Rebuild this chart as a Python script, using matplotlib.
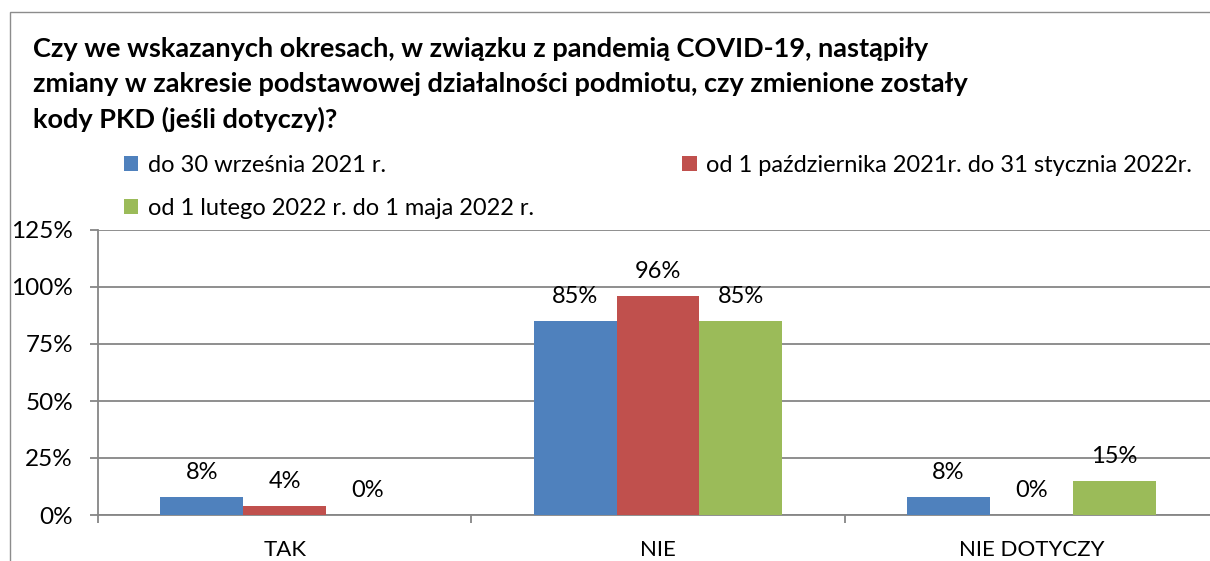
import matplotlib
matplotlib.use("Agg")
import matplotlib.pyplot as plt
from matplotlib.patches import Patch, Rectangle
from matplotlib.ticker import FixedLocator, PercentFormatter

kategorie = ["TAK", "NIE", "NIE DOTYCZY"]
okresy = ["do 30 września 2021 r.",
          "od 1 października 2021r. do 31 stycznia 2022r.",
          "od 1 lutego 2022 r. do 1 maja 2022 r."]
wartosci = [
    [8, 85, 8],     # do 30 września 2021
    [4, 96, 0],     # od 1 października 2021 do 31 stycznia 2022
    [0, 85, 15],    # od 1 lutego 2022 do 1 maja 2022
]
kolory = ["#4F81BD", "#C0504D", "#9BBB59"]
tytul = ["Czy we wskazanych okresach, w związku z pandemią COVID-19, nastąpiły",
         "zmiany w zakresie podstawowej działalności podmiotu, czy zmienione zostały",
         "kody PKD (jeśli dotyczy)?"]

plt.rcParams['font.family'] = ['Lato', 'DejaVu Sans']
szary = "#868686"

W, H = 1210, 561
fig = plt.figure(figsize=(W / 100, H / 100), dpi=100)

# ramka wykresu
fig.patches.append(Rectangle((10 / W, -0.1), 1.2, (H - 12) / H + 0.1,
                             transform=fig.transFigure, fill=False,
                             edgecolor="#8c8c8c", lw=1.0))

ax = fig.add_axes([98 / W, 46 / H, (1218 - 98) / W, 285 / H])

szer = 1 / 4.5
x = range(len(kategorie))
for i, (seria, kolor) in enumerate(zip(wartosci, kolory)):
    pos = [k + (i - 1) * szer for k in x]
    ax.bar(pos, seria, width=szer, color=kolor, zorder=3)
    for p, v in zip(pos, seria):
        ax.annotate(f"{v}%", (p, v), xytext=(0, 13), textcoords="offset points",
                    ha="center", va="baseline", fontsize=17, color="black")

ax.set_xlim(-0.5, 2.5)
ax.set_ylim(0, 125)
ax.yaxis.set_major_locator(FixedLocator([0, 25, 50, 75, 100, 125]))
ax.yaxis.set_major_formatter(PercentFormatter(decimals=0))
ax.grid(axis="y", color=szary, lw=1.3, zorder=0)

ax.xaxis.set_major_locator(FixedLocator([-0.5, 0.5, 1.5, 2.5]))
ax.xaxis.set_minor_locator(FixedLocator(list(x)))
ax.set_xticklabels([], minor=False)
ax.set_xticklabels(kategorie, minor=True)
ax.tick_params(axis="x", which="major", length=6, width=1.3, color=szary)
ax.tick_params(axis="x", which="minor", length=0, pad=18, labelsize=16)
ax.tick_params(axis="y", length=6, width=1.3, color=szary, pad=12, labelsize=17.5)

for s in ["top", "right"]:
    ax.spines[s].set_visible(False)
for s in ["left", "bottom"]:
    ax.spines[s].set_color(szary)
    ax.spines[s].set_linewidth(1.3)

for n, linia in enumerate(tytul):
    fig.text(33 / W, 1 - (57 + n * 35.5) / H, linia, fontsize=19.5,
             fontweight="bold", ha="left", va="baseline")

uchwyty = [Patch(facecolor=kolory[0]), Patch(facecolor=kolory[2]), Patch(facecolor=kolory[1])]
etykiety = [okresy[0], okresy[2], okresy[1]]
ax.legend(uchwyty, etykiety, ncol=2, loc="upper left",
          bbox_to_anchor=(124 / W, 1 - 155 / H), bbox_transform=fig.transFigure,
          frameon=False, fontsize=17, handlelength=0.6, handleheight=0.6,
          handletextpad=0.4, labelspacing=0.92, columnspacing=6.3,
          borderaxespad=0, borderpad=0)

fig.savefig("out.png", dpi=100)
